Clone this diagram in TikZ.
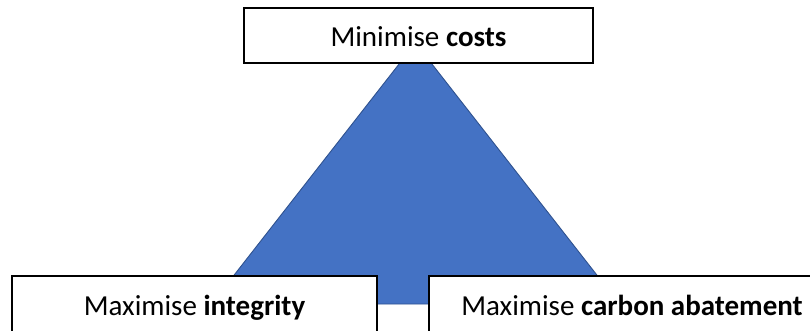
\documentclass[tikz,border=0pt]{standalone}
\usepackage{fontspec}
\setmainfont{Carlito}
\definecolor{trifill}{HTML}{4472C4}
\definecolor{triedge}{HTML}{2F528F}
\begin{document}
\begin{tikzpicture}[x=1pt,y=-1pt,
  goalbox/.style={draw=black, line width=1.3pt, fill=white, inner sep=0pt,
    text height=39pt, font=\fontsize{29}{34}\selectfont}]
\useasboundingbox (0,0) rectangle (810,331);
\clip (0,0) rectangle (810,331);
% the trade-off triangle behind the three goals
\coordinate (apex) at (415.5,43);
\coordinate (bl) at (211.5,304);
\coordinate (br) at (619.5,304);
\filldraw[fill=trifill, draw=triedge, line width=0.9pt, line join=miter] (apex) -- (bl) -- (br) -- cycle;
% the three goals (text height/depth fix the baseline inside each box)
\node[goalbox, minimum width=349pt, text depth=16pt] (cost) at (418.5,35.5) {Minimise \textbf{costs}};
\node[goalbox, minimum width=365pt, text depth=19pt] (integ) at (194.5,305) {Maximise \textbf{integrity}};
\node[goalbox, minimum width=406pt, text depth=19pt] (abate) at (632,305) {Maximise \textbf{carbon abatement}};
\end{tikzpicture}
\end{document}
